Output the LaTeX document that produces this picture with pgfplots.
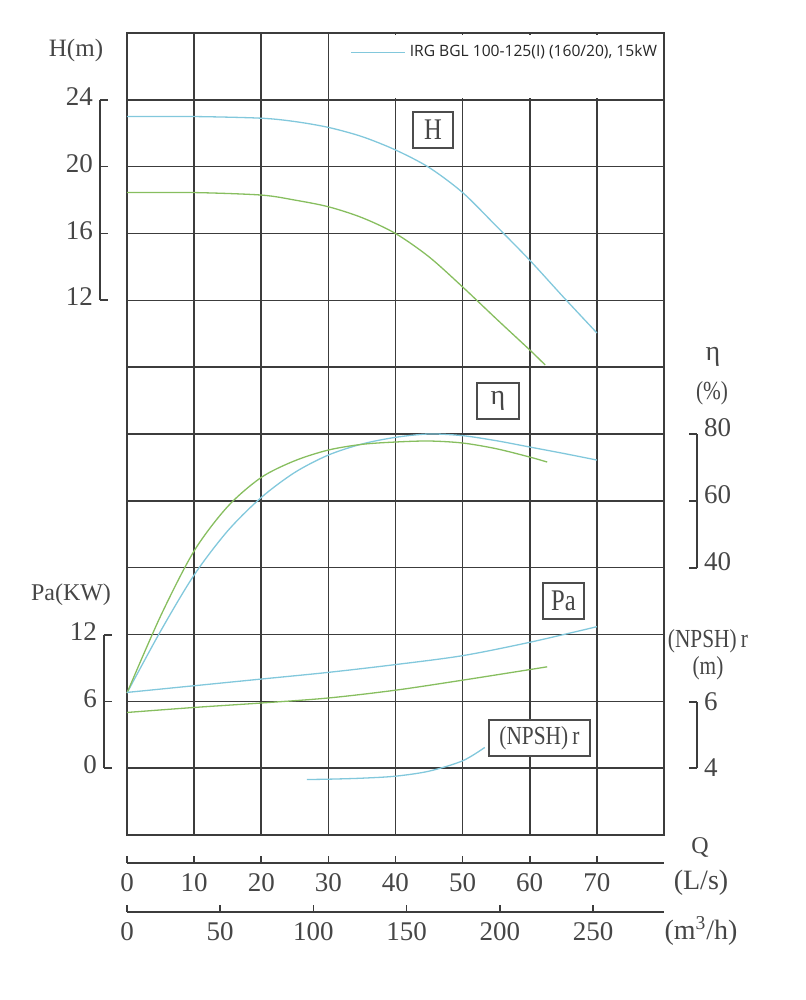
\documentclass[border=0pt]{standalone}
\usepackage{pgfplots}
\pgfplotsset{compat=1.18}
\usepackage{fontspec}
\setmainfont{Liberation Serif}
\newfontfamily\cond{Liberation Serif}[FakeStretch=0.82]
\newfontfamily\osans{Open Sans}
\definecolor{cblue}{RGB}{130,200,220}
\definecolor{cgreen}{RGB}{135,190,95}
\definecolor{gridc}{RGB}{60,60,60}
\definecolor{txt}{RGB}{70,70,70}
\pgfplotsset{
  /pgf/number format/assume math mode=true,
  base/.style={scale only axis, width=268.5pt, height=401pt, at={(0,0)}, anchor=south west, xmin=0, xmax=80},
  data/.style={base, hide axis, clip=false},
  curve/.style={line width=0.65pt, smooth},
  bracket/.style={scale only axis, width=1pt, xmin=0, xmax=1, axis x line=none,
    tick align=inside, major tick length=4pt,
    axis line style={gridc, line width=0.8pt, -}, y axis line style={-},
    tick style={gridc, line width=0.8pt},
    yticklabel style={font=\fontsize{13.5}{14}\selectfont, text=txt}},
  qaxis/.style={scale only axis, width=268.5pt, height=1pt, ymin=0, ymax=1,
    axis y line=none, axis x line=bottom,
    axis line style={gridc, line width=0.8pt, -}, tick align=inside, major tick length=3.5pt,
    tick style={gridc, line width=0.8pt},
    xticklabel style={font=\fontsize{13.5}{14}\selectfont, text=txt, yshift=-1.5pt}},
}
\begin{document}
\begin{tikzpicture}
\useasboundingbox (-63.5pt,-82.5pt) rectangle (339.5pt,417.5pt);
% grid frame
\begin{axis}[base, name=main, ymin=0, ymax=12,
  xtick={0,10,...,80}, ytick={0,1,...,12}, xticklabels={}, yticklabels={},
  major tick length=0pt, grid=major, grid style={gridc, line width=0.8pt},
  axis line style={gridc, line width=0.9pt}]
\addplot[draw=none, forget plot] coordinates {(1,1)};
\fill[white] (axis cs:30.2,11.03) rectangle (axis cs:79.8,11.97);
\end{axis}
% H curves
\begin{axis}[data, ymin=-20, ymax=28,
  legend style={at={(axis description cs:0.4155,0.976)}, anchor=west, draw=none, fill=none,
    inner sep=0pt, font=\fontsize{7.8}{9}\selectfont\osans, text=black!85},
  legend cell align=left,
  legend image code/.code={\draw[#1] (0pt,0pt) -- (27pt,0pt);}]
\addplot[cblue, curve] coordinates {(0,23.0) (10,23.0) (20,22.9) (25,22.7) (30,22.35) (35,21.8) (40,21.0) (45,19.95) (50,18.45) (55,16.45) (60,14.4) (65,12.2) (70,10.05)};
\addlegendentry{IRG BGL 100-125(I) (160/20), 15kW}
\addplot[cgreen, curve, forget plot] coordinates {(0,18.45) (10,18.45) (20,18.3) (25,18.0) (30,17.6) (35,16.95) (40,16.0) (45,14.6) (50,12.8) (55,10.9) (60,9.03) (62.3,8.13)};
\end{axis}
% efficiency
\begin{axis}[data, ymin=-40, ymax=200]
\addplot[cblue, curve] coordinates {(0,2.5) (5,21) (10,37.8) (15,51) (20,61) (25,68.5) (30,73.7) (35,77) (40,79) (45,80) (50,79.5) (55,78) (60,76.1) (65,74.2) (70,72.2)};
\addplot[cgreen, curve] coordinates {(0,2.5) (5,25.5) (10,45) (15,58.3) (20,67) (25,72) (30,75.2) (35,76.9) (40,77.6) (45,77.9) (50,77.3) (55,75.6) (60,73.1) (62.6,71.6)};
\end{axis}
% power
\begin{axis}[data, ymin=-6, ymax=66]
\addplot[cblue, curve] coordinates {(0,6.8) (10,7.4) (20,8.0) (30,8.6) (40,9.3) (50,10.1) (60,11.3) (70,12.7)};
\addplot[cgreen, curve] coordinates {(0,5.0) (10,5.45) (20,5.85) (30,6.3) (40,7.0) (50,7.9) (60,8.85) (62.6,9.1)};
\end{axis}
% NPSH
\begin{axis}[data, ymin=2, ymax=26]
\addplot[cblue, curve] coordinates {(26.8,3.66) (30,3.67) (35,3.70) (40,3.76) (45,3.91) (50,4.22) (53.3,4.62)};
\end{axis}
% bracket scales
\begin{axis}[axis y line=left, bracket, at={(-13.5pt,267.5pt)}, anchor=south west, height=100pt,
  ymin=12, ymax=24, ytick={12,16,20,24}, yticklabel style={yshift=1.5pt}]
\addplot[draw=none, forget plot] coordinates {(0.5,18)};
\end{axis}
\begin{axis}[axis y line=left, bracket, at={(-11.5pt,33.5pt)}, anchor=south west, height=66.5pt,
  ymin=0, ymax=12, ytick={0,6,12}, yticklabel style={yshift=1.5pt}]
\addplot[draw=none, forget plot] coordinates {(0.5,6)};
\end{axis}
\begin{axis}[axis y line=right, bracket, at={(285pt,133.5pt)}, anchor=south east, height=67pt,
  ymin=40, ymax=80, ytick={40,60,80}, yticklabel style={yshift=3pt}]
\addplot[draw=none, forget plot] coordinates {(0.5,60)};
\end{axis}
\begin{axis}[axis y line=right, bracket, at={(285pt,33.5pt)}, anchor=south east, height=33pt,
  ymin=4, ymax=6, ytick={4,6}]
\addplot[draw=none, forget plot] coordinates {(0.5,5)};
\end{axis}
% flow scales
\begin{axis}[qaxis, at={(0,-14pt)}, anchor=south west, xmin=0, xmax=80, xtick={0,10,...,70}]
\addplot[draw=none, forget plot] coordinates {(1,0.5)};
\end{axis}
\begin{axis}[qaxis, at={(0,-38.5pt)}, anchor=south west, xmin=0, xmax=288, xtick={0,50,...,250}]
\addplot[draw=none, forget plot] coordinates {(1,0.5)};
\end{axis}
% labels (image pixel coordinates)
\begin{scope}[shift={(-63.5pt,417.5pt)}, x=0.5pt, y=-0.5pt, text=txt]
\node[font=\fontsize{12.5}{13}\selectfont] at (76,51) {H(m)};
\node[font=\fontsize{12}{13}\selectfont] at (71,595) {Pa(KW)};
\node[font=\fontsize{14}{15}\selectfont] at (713,357) {η};
\node[font=\fontsize{13}{14}\selectfont\cond] at (712,393) {(\%)};
\node[font=\fontsize{13}{14}\selectfont\cond] at (708,641) {(NPSH)\,r};
\node[font=\fontsize{13}{14}\selectfont\cond] at (708,668) {(m)};
\node[font=\fontsize{12}{13}\selectfont] at (700,848) {Q};
\node[font=\fontsize{14}{15}\selectfont] at (701,883) {(L/s)};
\node[font=\fontsize{14}{15}\selectfont] at (701,931) {(m\textsuperscript{3}/h)};
\tikzset{lbox/.style={draw=black!70, line width=0.8pt, fill=white, inner sep=0pt, minimum height=18pt}}
\node[lbox, minimum width=20pt, font=\fontsize{15}{16}\selectfont\cond] at (433,130) {H};
\node[lbox, minimum width=21pt, font=\fontsize{14}{15}\selectfont] at (498,401) {η};
\node[lbox, minimum width=20.5pt, font=\fontsize{15}{16}\selectfont\cond] at (563.5,601) {Pa};
\node[lbox, minimum width=50.5pt, font=\fontsize{13}{14}\selectfont\cond] at (539.5,738) {(NPSH)\,r};
\end{scope}
\end{tikzpicture}
\end{document}
